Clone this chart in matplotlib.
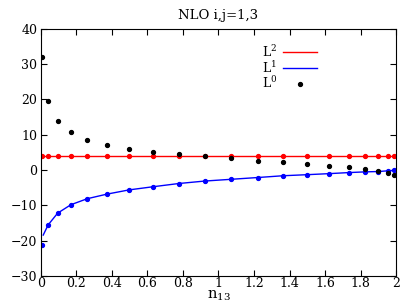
#! /usr/bin/env python3

import matplotlib
matplotlib.use('Agg')
import matplotlib.pyplot as plt

plt.rcParams['font.family'] = 'DejaVu Serif'
plt.rcParams['mathtext.fontset'] = 'dejavuserif'

# sample points in n13
n13 = [0.007, 0.041, 0.094, 0.169, 0.261, 0.372, 0.497, 0.633, 0.776, 0.922,
       1.072, 1.221, 1.362, 1.497, 1.623, 1.734, 1.825, 1.900, 1.953, 1.987]

L0 = [32.1, 19.5, 14.0, 10.8, 8.6, 7.1, 6.1, 5.2, 4.5, 3.9,
      3.3, 2.7, 2.2, 1.7, 1.1, 0.76, 0.2, -0.3, -0.85, -1.4]
L1 = [-21.2, -15.5, -12.2, -9.8, -8.1, -6.8, -5.6, -4.7, -3.8, -3.1,
      -2.6, -2.1, -1.6, -1.3, -1.0, -0.7, -0.5, -0.4, -0.2, -0.1]
L2 = [3.9] * len(n13)

# continuous curves
L1_line_x = [0.013, 0.041, 0.094, 0.169, 0.261, 0.372, 0.497, 0.633, 0.776, 0.922,
             1.072, 1.221, 1.362, 1.497, 1.623, 1.734, 1.825, 1.900, 1.953, 2.0]
L1_line_y = [-18.4, -15.5, -12.2, -9.8, -8.1, -6.8, -5.6, -4.7, -3.8, -3.1,
             -2.6, -2.1, -1.6, -1.3, -1.0, -0.7, -0.5, -0.4, -0.2, -0.05]
L2_line_x = [0.0, 2.0]
L2_line_y = [3.9, 3.9]

fig = plt.figure(figsize=(4.05, 3.04), dpi=100)
ax = fig.add_axes([0.101, 0.092, 0.877, 0.813])

ax.plot(L2_line_x, L2_line_y, color='red', lw=1.0, label='L$^2$')
ax.plot(n13, L2, 'o', color='red', ms=2.8)
ax.plot(L1_line_x, L1_line_y, color='blue', lw=1.0, label='L$^1$')
ax.plot(n13, L1, 'o', color='blue', ms=2.8)
ax.plot(n13, L0, 'o', color='black', ms=2.8, ls='none', label='L$^0$')

ax.set_xlim(0, 2)
ax.set_ylim(-30, 40)
ax.set_xticks([0, 0.2, 0.4, 0.6, 0.8, 1, 1.2, 1.4, 1.6, 1.8, 2])
ax.set_xticklabels(['0', '0.2', '0.4', '0.6', '0.8', '1', '1.2', '1.4', '1.6', '1.8', '2'])
ax.set_yticks(range(-30, 41, 10))
ax.tick_params(direction='in', top=True, right=True, labelsize=9, length=4, pad=1)
ax.tick_params(axis='y', pad=2.5)

ax.set_title('NLO i,j=1,3', fontsize=9.5, pad=7)
ax.set_xlabel('n$_{13}$', fontsize=10.5, labelpad=-1.5)

leg = ax.legend(loc='upper right', bbox_to_anchor=(0.795, 0.965), frameon=False,
                markerfirst=False, fontsize=9, handlelength=2.7,
                handletextpad=0.5, labelspacing=0.0, borderpad=0)

fig.savefig('out.png', dpi=100)
